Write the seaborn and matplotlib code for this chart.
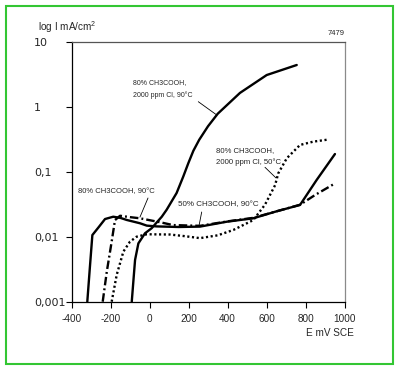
import matplotlib
matplotlib.use('Agg')
import matplotlib.pyplot as plt
import seaborn as sns
from matplotlib.patches import Rectangle
from matplotlib.ticker import FixedLocator, NullLocator

# ---- data (E in mV SCE, I in mA/cm2) ----
# 80% CH3COOH, 2000 ppm Cl, 90°C (solid)
E_cl90 = [-91, -82, -74, -57, -23, 11, 63, 88, 139, 173, 199, 225, 255, 300, 350, 464, 601, 755]
I_cl90 = [0.001, 0.0022, 0.0044, 0.0079, 0.0113, 0.0135, 0.0203, 0.026, 0.047, 0.084, 0.135, 0.21,
          0.31, 0.50, 0.78, 1.63, 3.07, 4.38]
# 80% CH3COOH, 2000 ppm Cl, 50°C (dotted)
E_cl50 = [-194, -168, -134, -100, -66, -14, 105, 180, 259, 350, 430, 532, 592, 644, 660, 704, 772, 840, 909]
I_cl50 = [0.001, 0.0026, 0.0059, 0.0084, 0.0100, 0.0109, 0.0108, 0.0102, 0.0095, 0.0105, 0.0127,
          0.018, 0.031, 0.062, 0.094, 0.161, 0.258, 0.29, 0.31]
# 80% CH3COOH, 90°C (dash-dot)
E_80 = [-240, -219, -194, -177, -151, -100, -49, 54, 120, 259, 400, 532, 650, 772, 849, 951]
I_80 = [0.001, 0.0029, 0.0084, 0.018, 0.021, 0.020, 0.0192, 0.0167, 0.0151, 0.0147, 0.0172, 0.0195,
        0.0245, 0.031, 0.0438, 0.066]
# 50% CH3COOH, 90°C (solid)
E_50 = [-319, -306, -293, -260, -228, -186, -150, -117, -49, -14, 37, 150, 259, 396, 532, 650, 772, 857, 951]
I_50 = [0.001, 0.0033, 0.0106, 0.0141, 0.0187, 0.0203, 0.0195, 0.0181, 0.0161, 0.0148, 0.0144, 0.0141,
        0.0143, 0.017, 0.0192, 0.0245, 0.0308, 0.0745, 0.187]

x_ticks = [-400, -200, 0, 200, 400, 600, 800, 1000]
x_tick_labels = ['-400', '-200', '0', '200', '400', '600', '800', '1000']
y_ticks = [0.001, 0.01, 0.1, 1, 10]
y_tick_labels = ['0,001', '0,01', '0,1', '1', '10']

sns.set_style('white')
plt.rcParams['font.family'] = ['Liberation Sans', 'DejaVu Sans']
plt.rcParams['mathtext.fontset'] = 'custom'
plt.rcParams['mathtext.rm'] = 'Liberation Sans'
plt.rcParams['mathtext.it'] = 'Liberation Sans:italic'
plt.rcParams['mathtext.bf'] = 'Liberation Sans:bold'

W, H = 400, 370
def fx(x):
    return x / W
def fy(y):
    return 1 - y / H

fig = plt.figure(figsize=(W / 100, H / 100), dpi=100)
fig.patch.set_facecolor('white')
L, R, T, B = 71.5, 344.5, 41.7, 301.7
ax = fig.add_axes([fx(L), fy(B), (R - L) / W, (B - T) / H])
ax.set_facecolor('white')

lw = 1.7
sns.lineplot(x=E_50, y=I_50, ax=ax, color='black', lw=lw, linestyle='-',
             estimator=None, sort=False)
sns.lineplot(x=E_80, y=I_80, ax=ax, color='black', lw=lw, linestyle=(0, (3.6, 1.3, 0.8, 1.3)),
             estimator=None, sort=False)
sns.lineplot(x=E_cl50, y=I_cl50, ax=ax, color='black', lw=lw, linestyle=(0, (0.9, 1.1)),
             estimator=None, sort=False)
sns.lineplot(x=E_cl90, y=I_cl90, ax=ax, color='black', lw=lw, linestyle='-',
             estimator=None, sort=False)

ax.set_yscale('log')
ax.set_xlim(-400, 1000)
ax.set_ylim(0.001, 10)
ax.xaxis.set_major_locator(FixedLocator(x_ticks))
ax.set_xticklabels(x_tick_labels)
ax.yaxis.set_major_locator(FixedLocator(y_ticks))
ax.yaxis.set_minor_locator(NullLocator())
ax.set_yticklabels(y_tick_labels)
ax.set_xlabel('')
ax.set_ylabel('')

ax.tick_params(axis='both', which='major', direction='out', length=4.3, width=0.8,
               color='black', bottom=True, left=True)
ax.tick_params(axis='x', labelsize=7.2, pad=4.5)
ax.tick_params(axis='y', labelsize=8, pad=22.5)
for lbl in ax.get_yticklabels():
    lbl.set_ha('left')
    lbl.set_family(['DejaVu Sans'])
for lbl in ax.get_xticklabels():
    lbl.set_family(['Liberation Sans'])

for s in ['left', 'bottom']:
    ax.spines[s].set_color('black')
    ax.spines[s].set_linewidth(0.9)
ax.spines['top'].set_color('#555555')
ax.spines['top'].set_linewidth(0.9)
ax.spines['right'].set_color('#8a8a8a')
ax.spines['right'].set_linewidth(0.9)

# axis titles
fig.text(fx(37.7), fy(26.7), 'log I mA/cm$^{2}$', ha='left', va='center', fontsize=7.2)
fig.text(fx(306), fy(333.3), 'E mV SCE', ha='left', va='center', fontsize=7.2)
fig.text(fx(345), fy(33.3), '7479', ha='right', va='center', fontsize=5.5)

# curve labels
fig.text(fx(133), fy(83), '80% CH3COOH,', ha='left', va='center', fontsize=5.0)
fig.text(fx(133), fy(95), '2000 ppm Cl, 90°C', ha='left', va='center', fontsize=5.0)
fig.text(fx(216), fy(150.7), '80% CH3COOH,', ha='left', va='center', fontsize=5.6)
fig.text(fx(216), fy(161.7), '2000 ppm Cl, 50°C', ha='left', va='center', fontsize=5.6)
fig.text(fx(78), fy(192), '80% CH3COOH, 90°C', ha='left', va='center', fontsize=5.5)
fig.text(fx(178), fy(205), '50% CH3COOH, 90°C', ha='left', va='center', fontsize=5.8)

# leader lines
leaders = [((198.3, 101.7), (341, 0.76)),
           ((265, 167.3), (649, 0.080)),
           ((148, 198), (-49, 0.020)),
           ((201.7, 212), (254, 0.0148))]
for (px, py), (ex, ey) in leaders:
    ax.annotate('', xy=(ex, ey), xycoords='data', xytext=(fx(px), fy(py)),
                textcoords='figure fraction',
                arrowprops=dict(arrowstyle='-', color='black', lw=0.6, shrinkA=0, shrinkB=0))

# green frame
fig.add_artist(Rectangle((fx(6), fy(363.5)), (393 - 6) / W, (363.5 - 6) / H,
                         transform=fig.transFigure, fill=False, edgecolor='#33c633', lw=1.5))

fig.savefig('out.png', dpi=100)
